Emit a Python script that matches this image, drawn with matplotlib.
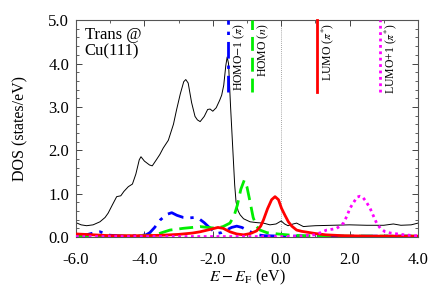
import numpy as np
import matplotlib
matplotlib.use("Agg")
import matplotlib.pyplot as plt
from matplotlib.ticker import MultipleLocator, FormatStrFormatter

plt.rcParams['font.family'] = ['Liberation Serif', 'DejaVu Serif']
plt.rcParams['mathtext.fontset'] = 'stix'
plt.rcParams['axes.unicode_minus'] = True

# total DOS (black)
tot_E = [-6.0, -5.85, -5.69, -5.5, -5.30, -5.15, -5.06, -4.93, -4.81, -4.69, -4.6, -4.47, -4.35,
         -4.25, -4.15, -4.10, -4.0, -3.85, -3.77, -3.65, -3.55, -3.45, -3.30, -3.15, -3.06, -2.95,
         -2.85, -2.79, -2.72, -2.62, -2.52, -2.45, -2.37, -2.25, -2.15, -2.08, -2.00, -1.90, -1.80,
         -1.74, -1.68, -1.62, -1.58, -1.54, -1.48, -1.42, -1.36, -1.32, -1.26, -1.20, -1.1, -0.91,
         -0.7, -0.52, -0.33, -0.15, 0.0, 0.1, 0.2, 0.35, 0.45, 0.55, 0.65, 0.8, 1.0, 1.5, 2.0, 2.5,
         3.0, 3.28, 3.5, 3.8, 4.0]
tot_D = [0.33, 0.28, 0.26, 0.28, 0.35, 0.45, 0.55, 0.75, 0.93, 0.95, 1.05, 1.16, 1.22,
         1.45, 1.78, 1.85, 1.75, 1.66, 1.64, 1.78, 1.90, 2.05, 2.23, 2.6, 2.93, 3.3,
         3.58, 3.63, 3.55, 3.1, 2.78, 2.70, 2.66, 2.78, 2.94, 2.95, 2.90, 2.98, 3.15,
         3.27, 3.5, 3.95, 4.15, 4.0, 3.0, 2.1, 1.2, 0.81, 0.6, 0.51, 0.42, 0.35,
         0.33, 0.32, 0.28, 0.30, 0.37, 0.30, 0.26, 0.30, 0.32, 0.28, 0.24, 0.25, 0.26, 0.27, 0.28, 0.27,
         0.27, 0.30, 0.27, 0.28, 0.32]

# HOMO-1 (pi), blue
h1_E = [-6.0, -5.7, -5.45, -5.30, -5.15, -5.0, -4.6, -4.2, -3.95, -3.84, -3.7, -3.54, -3.35, -3.20,
        -3.05, -2.86, -2.7, -2.52, -2.4, -2.25, -2.13, -2.0, -1.89, -1.75, -1.6, -1.45, -1.30, -1.15,
        -1.0, -0.85, -0.7, -0.5, 0.0, 1.0, 2.0, 3.0, 4.0]
h1_D = [0.05, 0.05, 0.10, 0.12, 0.08, 0.04, 0.02, 0.03, 0.05, 0.10, 0.22, 0.39, 0.52, 0.56,
        0.50, 0.45, 0.44, 0.45, 0.42, 0.33, 0.24, 0.15, 0.08, 0.10, 0.16, 0.22, 0.25, 0.22,
        0.16, 0.10, 0.05, 0.03, 0.02, 0.02, 0.02, 0.02, 0.02]

# HOMO (n), green
h_E = [-6.0, -4.5, -4.0, -3.8, -3.64, -3.45, -3.25, -3.05, -2.86, -2.6, -2.37, -2.15, -1.89, -1.7,
       -1.50, -1.38, -1.28, -1.18, -1.08, -1.0, -0.91, -0.82, -0.72, -0.62, -0.42, -0.1, 0.3, 1.0, 4.0]
h_D = [0.02, 0.02, 0.03, 0.04, 0.06, 0.11, 0.16, 0.18, 0.20, 0.22, 0.24, 0.22, 0.20, 0.24,
       0.32, 0.48, 0.74, 1.10, 1.31, 1.15, 0.81, 0.45, 0.24, 0.16, 0.10, 0.07, 0.04, 0.02, 0.02]

# LUMO (pi*), red
l_E = [-6.0, -5.5, -5.0, -4.5, -4.0, -3.5, -3.0, -2.6, -2.37, -2.1, -1.85, -1.7, -1.5, -1.3, -1.1,
       -0.9, -0.72, -0.6, -0.52, -0.4, -0.28, -0.18, -0.08, 0.01, 0.11, 0.21, 0.31, 0.45, 0.6, 0.84,
       1.0, 1.3, 1.8, 2.5, 4.0]
l_D = [0.07, 0.05, 0.03, 0.03, 0.03, 0.04, 0.06, 0.09, 0.12, 0.17, 0.22, 0.20, 0.12, 0.07, 0.05,
       0.08, 0.14, 0.25, 0.39, 0.65, 0.86, 0.93, 0.86, 0.66, 0.50, 0.35, 0.25, 0.16, 0.13, 0.10,
       0.08, 0.05, 0.03, 0.02, 0.02]

# LUMO+1 (pi*), magenta
l1_E = [-6.0, -3.0, 0.0, 0.5, 0.98, 1.15, 1.33, 1.5, 1.62, 1.72, 1.82, 1.92, 2.01, 2.12, 2.22, 2.30,
        2.38, 2.48, 2.60, 2.70, 2.79, 2.9, 3.04, 3.2, 3.4, 3.6, 3.9, 4.0]
l1_D = [0.01, 0.01, 0.01, 0.02, 0.05, 0.10, 0.16, 0.18, 0.20, 0.25, 0.32, 0.48, 0.66, 0.80, 0.92, 0.94,
        0.92, 0.82, 0.66, 0.48, 0.32, 0.20, 0.12, 0.09, 0.07, 0.05, 0.03, 0.03]

# orbital marker positions and labels
mark_E = [-1.55, -0.85, 1.04, 2.89]
mark_labels = [r"HOMO$-$1 ($\pi$)", r"HOMO ($n$)", r"LUMO ($\pi^{*}$)", r"LUMO+1 ($\pi^{*}$)"]

colors = ['#0000ff', '#00ee00', '#ff0000', '#ff00ff']
styles = [(0, (6, 2.5, 1.2, 2.5)), (0, (5, 2.5)), '-', (0, (1, 1.3))]

fig = plt.figure(figsize=(4.36, 3.05), dpi=100)
ax = fig.add_axes([0.1743, 0.223, 0.7844, 0.711])

ax.axvline(0.0, color='#888888', lw=0.6, ls=(0, (1, 1.5)), zorder=1)
ax.plot(tot_E, tot_D, color='black', lw=0.7, zorder=2)
for (E, D), c, s in zip([(h1_E, h1_D), (h_E, h_D), (l_E, l_D), (l1_E, l1_D)], colors, styles):
    ax.plot(E, D, color=c, lw=2.0, ls=s, zorder=3)

for e, lab, c, s in zip(mark_E, mark_labels, colors, styles):
    ax.plot([e, e], [3.35, 5.0], color=c, lw=2.0, ls=s, zorder=3, clip_on=False)
    ax.text(e + 0.32, 4.93, lab, rotation=90, ha='center', va='top', fontsize=8.5)

ax.text(-5.75, 4.84, "Trans @\nCu(111)", ha='left', va='top', fontsize=12, linespacing=1.0)

ax.set_xlim(-6.0, 4.0)
ax.set_ylim(0.0, 5.0)
ax.xaxis.set_major_locator(MultipleLocator(2.0))
ax.xaxis.set_minor_locator(MultipleLocator(1.0))
ax.yaxis.set_major_locator(MultipleLocator(1.0))
ax.yaxis.set_minor_locator(MultipleLocator(0.2))
ax.xaxis.set_major_formatter(FormatStrFormatter('%.1f'))
ax.yaxis.set_major_formatter(FormatStrFormatter('%.1f'))
ax.tick_params(which='both', direction='in', top=True, right=True, labelsize=12,
               color='#444444')
ax.tick_params(which='major', length=4, width=0.7)
ax.tick_params(axis='y', which='major', pad=5)
ax.tick_params(axis='x', which='major', pad=11)
ax.tick_params(which='minor', length=2, width=0.6)
for sp in ax.spines.values():
    sp.set_color('#555555')
    sp.set_linewidth(0.8)

ax.set_xlabel(r"$E-E_{\mathrm{F}}$ (eV)", fontsize=11.5, labelpad=0)
ax.set_ylabel("DOS (states/eV)", fontsize=11.5, labelpad=14)

fig.savefig("out.png", dpi=100)
